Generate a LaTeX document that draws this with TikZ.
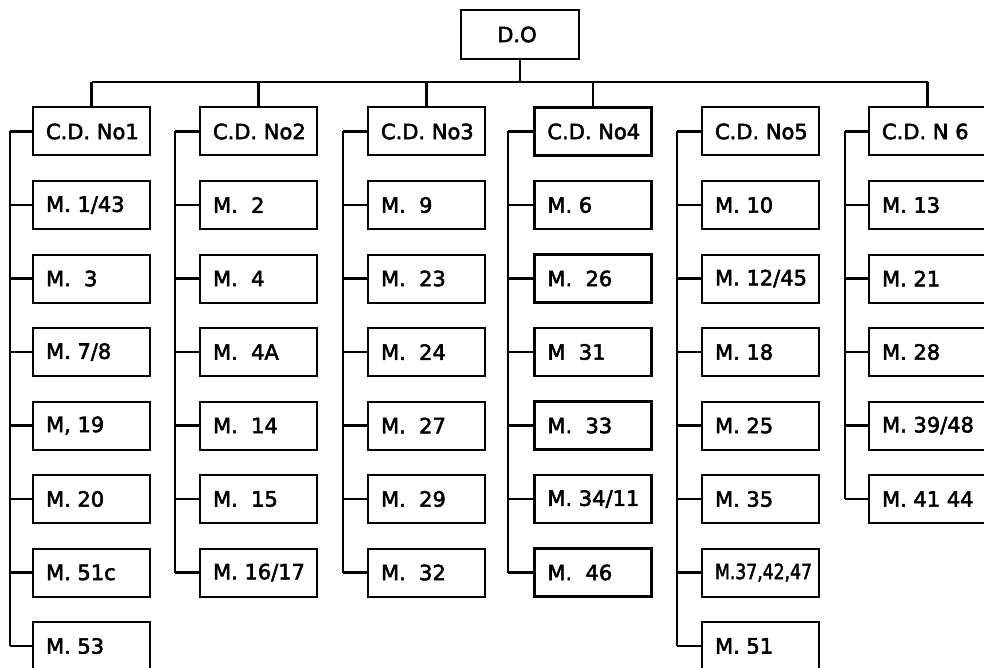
\documentclass[tikz,border=0pt]{standalone}
\usepackage{fontspec}
\usepackage{graphicx}
\setmainfont{DejaVu Sans}[FakeBold=2.5]
\begin{document}
\begin{tikzpicture}[x=1pt,y=-1pt,
  box/.style={draw, line width=2pt, rectangle, inner xsep=0pt, inner ysep=0pt,
    minimum width=117pt, minimum height=48pt, anchor=west,
    font=\fontsize{21}{21}\selectfont},
  boldbox/.style={box, line width=2.8pt},
  wire/.style={line width=2.3pt}]
\useasboundingbox (0,0) rectangle (984,668);
\newcommand{\lt}[1]{\makebox[91pt][l]{#1}}
% top node
\node[draw, line width=2pt, minimum width=118pt, minimum height=49pt,
  font=\fontsize{21}{21}\selectfont] (do) at (520,34.5) {\hspace{-6pt}D.O};
\coordinate (bus) at (0,82);
\coordinate (t1) at (10,0);
\coordinate (t2) at (175,0);
\coordinate (t3) at (343,0);
\coordinate (t4) at (508,0);
\coordinate (t5) at (677,0);
\coordinate (t6) at (845,0);
% column 1
\foreach \lab [count=\k from 0] in {C.D. No1, M. 1/43, M. \ 3, M. 7/8, {M, 19}, M. 20, M. 51c, M. 53}
  {\node[box] (a\k) at (32,131.5+73.5*\k) {\lt{\lab}};
   \draw[wire] (a\k.west) -- (a\k.west -| t1);}
% column 2
\foreach \lab [count=\k from 0] in {C.D. No2, M. \ 2, M. \ 4, M. \ 4A, M. \ 14, M. \ 15, M. 16/17}
  {\node[box] (b\k) at (199,131.5+73.5*\k) {\lt{\lab}};
   \draw[wire] (b\k.west) -- (b\k.west -| t2);}
% column 3
\foreach \lab [count=\k from 0] in {C.D. No3, M. \ 9, M. \ 23, M. \ 24, M. \ 27, M. \ 29, M. \ 32}
  {\node[box] (c\k) at (367,131.5+73.5*\k) {\lt{\lab}};
   \draw[wire] (c\k.west) -- (c\k.west -| t3);}
% column 4
\foreach \lab [count=\k from 0] in {C.D. No4, M. 6, M. \ 26, M \ 31, M. \ 33, M. 34/11, M. \ 46}
  {\node[boldbox] (d\k) at (533,131.5+73.5*\k) {\lt{\lab}};
   \draw[wire] (d\k.west) -- (d\k.west -| t4);}
% column 5
\foreach \lab [count=\k from 0] in {C.D. No5, M. 10, M. 12/45, M. 18, M. 25, M. 35, {\scalebox{0.82}[1]{M.37,42,47}}, M. 51}
  {\node[box] (e\k) at (701,131.5+73.5*\k) {\lt{\lab}};
   \draw[wire] (e\k.west) -- (e\k.west -| t5);}
% column 6
\foreach \lab [count=\k from 0] in {C.D. N 6, M. 13, M. 21, M. 28, M. 39/48, M. 41 44}
  {\node[box] (f\k) at (868,131.5+73.5*\k) {\lt{\lab}};
   \draw[wire] (f\k.west) -- (f\k.west -| t6);}
% trunks
\draw[wire] (a0.west -| t1) -- (a7.west -| t1);
\draw[wire] (b0.west -| t2) -- (b6.west -| t2);
\draw[wire] (c0.west -| t3) -- (c6.west -| t3);
\draw[wire] (d0.west -| t4) -- (d6.west -| t4);
\draw[wire] (e0.west -| t5) -- (e7.west -| t5);
\draw[wire] (f0.west -| t6) -- (f5.west -| t6);
% bus
\draw[wire] (do.south) -- (do.south |- bus);
\draw[wire] (a0.north |- bus) -- (f0.north |- bus);
\draw[wire] (a0.north |- bus) -- (a0.north);
\draw[wire] (b0.north |- bus) -- (b0.north);
\draw[wire] (c0.north |- bus) -- (c0.north);
\draw[wire] (d0.north |- bus) -- (d0.north);
\draw[wire] (f0.north |- bus) -- (f0.north);
\end{tikzpicture}
\end{document}
